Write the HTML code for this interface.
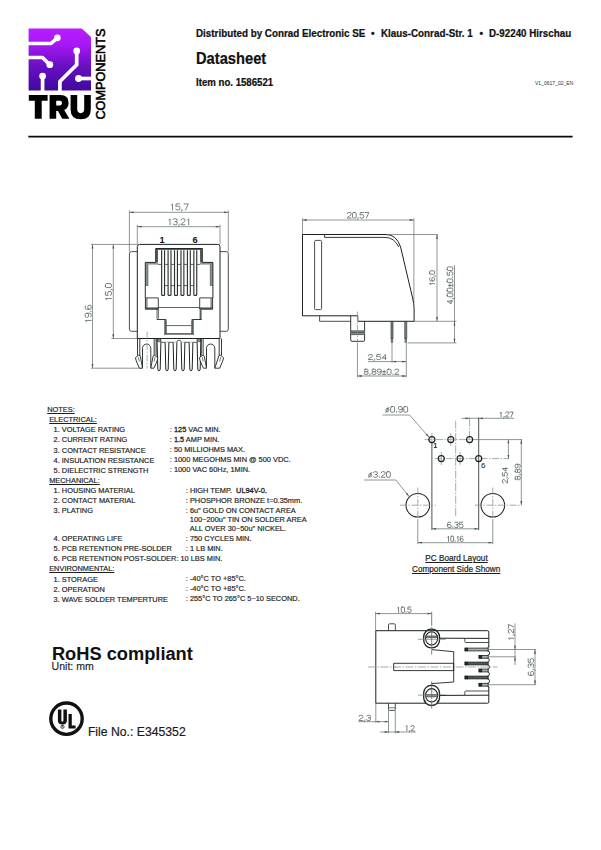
<!DOCTYPE html>
<html lang="en">
<head>
<meta charset="utf-8">
<title>Datasheet 1586521</title>
<style>
html,body{margin:0;padding:0;background:#fff;}
body{width:601px;height:850px;position:relative;overflow:hidden;font-family:"Liberation Sans",sans-serif;color:#000;}
.t{position:absolute;white-space:nowrap;line-height:1;transform-origin:0 0;}
.hb{font-weight:bold;color:#111;-webkit-text-stroke:0.22px #111;}
.dw{position:absolute;left:0;top:0;}
.n{position:absolute;white-space:nowrap;line-height:1;font-size:7.4px;color:#1e1e1e;transform-origin:0 0;-webkit-text-stroke:0.18px #1e1e1e;}
.sb{font-weight:normal;-webkit-text-stroke:0.3px #1e1e1e;}
.u{text-decoration:underline;text-decoration-thickness:0.9px;text-underline-offset:1px;}
.b{font-weight:bold;}
.cap{position:absolute;white-space:nowrap;line-height:1;font-size:8.2px;color:#1e1e1e;text-decoration:underline;text-decoration-thickness:0.8px;text-underline-offset:1px;-webkit-text-stroke:0.2px #1e1e1e;}
</style>
</head>
<body>
<!-- logo -->
<svg class="dw" width="130" height="130" viewBox="0 0 130 130">
<defs>
<linearGradient id="pg" x1="0" y1="0" x2="0" y2="1">
<stop offset="0" stop-color="#b81dff"/>
<stop offset="0.25" stop-color="#a818f5"/>
<stop offset="0.6" stop-color="#6a10c4"/>
<stop offset="1" stop-color="#3f0a9c"/>
</linearGradient>
</defs>
<path d="M28.6 28.6H81.2Q82 28.6 82.6 29.3L90.4 36.6Q91 37.2 91 38V90.5H28.6Z" fill="url(#pg)"/>
<g stroke="#fff" stroke-width="3.7" fill="none" stroke-linejoin="round">
<path d="M28 43.5H51L57.3 37.8"/>
<path d="M28 57.5H42.5L49.8 64.7"/>
<path d="M42.6 76.1V91"/>
<path d="M76.7 51V64.7L59.9 81.5V91"/>
<path d="M78.5 78.5H92"/>
</g>
<g fill="#fff">
<circle cx="57.3" cy="37.8" r="3.4"/>
<circle cx="49.8" cy="64.7" r="3.4"/>
<circle cx="42.6" cy="76.1" r="3.4"/>
<circle cx="76.7" cy="51" r="3.4"/>
<circle cx="78.5" cy="78.5" r="3.4"/>
</g>
<!-- TRU -->
<g fill="#000" transform="translate(0 95.1) scale(1 1.028) translate(0 -95)">
<path d="M28.8 95H47.6V100.6H41.7V118H34.8V100.6H28.8Z"/>
<path d="M49.6 95H60.5Q68.6 95 68.6 102.4Q68.6 107.8 64.2 109.4L69.4 118H62.2L58 110.4H56.2V118H49.6ZM56.2 100.4V105.2H60Q62 105.2 62 102.8Q62 100.4 60 100.4Z" fill-rule="evenodd"/>
<path d="M70.6 95H77.2V108.6Q77.2 112.6 80.7 112.6Q84.2 112.6 84.2 108.6V95H90.8V109Q90.8 118.5 80.7 118.5Q70.6 118.5 70.6 109Z"/>
</g>
<text transform="translate(104.5 119.6) rotate(-90)" font-family="Liberation Sans, sans-serif" font-size="13.3" textLength="91" lengthAdjust="spacingAndGlyphs" fill="#000" stroke="#000" stroke-width="0.55">COMPONENTS</text>
</svg>
<!-- header -->
<div class="t hb" id="h1a" style="left:196px;top:28.9px;font-size:10.2px;transform:scaleX(0.9653);">Distributed by Conrad Electronic SE</div>
<div class="t hb" id="h1b" style="left:370.9px;top:28.9px;font-size:10.2px;">•</div>
<div class="t hb" id="h1c" style="left:381px;top:28.9px;font-size:10.2px;transform:scaleX(0.9641);">Klaus-Conrad-Str. 1</div>
<div class="t hb" id="h1d" style="left:479.4px;top:28.9px;font-size:10.2px;">•</div>
<div class="t hb" id="h1e" style="left:489px;top:28.9px;font-size:10.2px;transform:scaleX(0.9602);">D-92240 Hirschau</div>
<div class="t hb" id="h2" style="left:196.2px;top:51px;font-size:16.9px;transform:scaleX(0.8694);">Datasheet</div>
<div class="t hb" id="h3" style="left:196px;top:77.6px;font-size:10.3px;transform:scaleX(0.9364);">Item no. 1586521</div>
<div class="t" id="h4" style="left:534.8px;top:81.3px;font-size:5.6px;color:#333;transform:scaleX(0.9);">V1_0617_02_EN</div>

<svg class="dw" width="601" height="850" viewBox="0 0 601 850" fill="none" stroke-linecap="butt">
<rect x="28.3" y="135.75" width="544.3" height="1.75" fill="#0c0c0c" stroke="none"/>
<path d="M129.4 210.4L129.4 251.6" stroke="#5e6c67" stroke-width="0.7"/>
<path d="M228.3 210.4L228.3 251.6" stroke="#5e6c67" stroke-width="0.7"/>
<path d="M129.4 212.3L228.3 212.3" stroke="#5e6c67" stroke-width="0.7"/>
<path d="M129.4 212.3L133.6 211.4L133.6 213.2Z" fill="#46524e" stroke="none"/>
<path d="M228.3 212.3L224.1 213.2L224.1 211.4Z" fill="#46524e" stroke="none"/>
<g transform="translate(179.2 209.9) rotate(0)" stroke="#515e59" stroke-width="0.78" fill="none" stroke-linecap="round" stroke-linejoin="round"><path transform="translate(-9.07 -6) scale(5.94 6)" vector-effect="non-scaling-stroke" d="M.2 .2L.4 0V1"/><path transform="translate(-3.4 -6) scale(5.94 6)" vector-effect="non-scaling-stroke" d="M.65 0H.05L0 .45Q.15 .38 .35 .38H.45Q.7 .38 .7 .6V.78Q.7 1 .5 1H.2Q.02 1 0 .85"/><path transform="translate(2.09 -6) scale(5.94 6)" vector-effect="non-scaling-stroke" d="M.14 .9V1L.04 1.22"/><path transform="translate(4.91 -6) scale(5.94 6)" vector-effect="non-scaling-stroke" d="M0 0H.7L.25 1"/></g>
<path d="M137.3 224.8L137.3 244.4" stroke="#5e6c67" stroke-width="0.7"/>
<path d="M220 224.8L220 244.4" stroke="#5e6c67" stroke-width="0.7"/>
<path d="M137.3 226.7L220 226.7" stroke="#5e6c67" stroke-width="0.7"/>
<path d="M137.3 226.7L141.5 225.8L141.5 227.6Z" fill="#46524e" stroke="none"/>
<path d="M220 226.7L215.8 227.6L215.8 225.8Z" fill="#46524e" stroke="none"/>
<g transform="translate(179.1 224.8) rotate(0)" stroke="#515e59" stroke-width="0.78" fill="none" stroke-linecap="round" stroke-linejoin="round"><path transform="translate(-11.33 -6) scale(5.66 6)" vector-effect="non-scaling-stroke" d="M.2 .2L.4 0V1"/><path transform="translate(-5.93 -6) scale(5.66 6)" vector-effect="non-scaling-stroke" d="M0 .15Q.05 0 .2 0H.5Q.7 0 .7 .2V.3Q.7 .48 .5 .48H.3M.5 .48Q.7 .48 .7 .68V.8Q.7 1 .5 1H.2Q.02 1 0 .85"/><path transform="translate(-0.71 -6) scale(5.66 6)" vector-effect="non-scaling-stroke" d="M.14 .9V1L.04 1.22"/><path transform="translate(1.97 -6) scale(5.66 6)" vector-effect="non-scaling-stroke" d="M0 .2Q0 0 .2 0H.5Q.7 0 .7 .2V.3Q.7 .45 .5 .55L.1 .8Q0 .87 0 1H.7"/><path transform="translate(7.37 -6) scale(5.66 6)" vector-effect="non-scaling-stroke" d="M.2 .2L.4 0V1"/></g>
<path d="M91 244.4L137.3 244.4" stroke="#5e6c67" stroke-width="0.7"/>
<path d="M111.4 338.5L137.3 338.5" stroke="#5e6c67" stroke-width="0.7"/>
<path d="M91 368.2L141.5 368.2" stroke="#5e6c67" stroke-width="0.7"/>
<path d="M92.5 244.4L92.5 368.2" stroke="#5e6c67" stroke-width="0.7"/>
<path d="M92.5 244.4L93.4 248.6L91.6 248.6Z" fill="#46524e" stroke="none"/>
<path d="M92.5 368.2L91.6 364L93.4 364Z" fill="#46524e" stroke="none"/>
<path d="M113.3 244.4L113.3 338.5" stroke="#5e6c67" stroke-width="0.7"/>
<path d="M113.3 244.4L114.2 248.6L112.4 248.6Z" fill="#46524e" stroke="none"/>
<path d="M113.3 338.5L112.4 334.3L114.2 334.3Z" fill="#46524e" stroke="none"/>
<g transform="translate(91.2 314) rotate(-90)" stroke="#515e59" stroke-width="0.78" fill="none" stroke-linecap="round" stroke-linejoin="round"><path transform="translate(-8.73 -6) scale(5.72 6)" vector-effect="non-scaling-stroke" d="M.2 .2L.4 0V1"/><path transform="translate(-3.27 -6) scale(5.72 6)" vector-effect="non-scaling-stroke" d="M.05 .9Q.1 1 .25 1H.45Q.7 1 .7 .75V.22Q.7 0 .5 0H.2Q0 0 0 .2V.35Q0 .55 .2 .55H.5Q.7 .55 .7 .35"/><path transform="translate(2.01 -6) scale(5.72 6)" vector-effect="non-scaling-stroke" d="M.12 .9V1"/><path transform="translate(4.72 -6) scale(5.72 6)" vector-effect="non-scaling-stroke" d="M.65 .1Q.6 0 .45 0H.25Q0 0 0 .25V.78Q0 1 .2 1H.5Q.7 1 .7 .8V.65Q.7 .45 .5 .45H.2Q0 .45 0 .65"/></g>
<g transform="translate(111.4 292.2) rotate(-90)" stroke="#515e59" stroke-width="0.78" fill="none" stroke-linecap="round" stroke-linejoin="round"><path transform="translate(-8.63 -6) scale(5.65 6)" vector-effect="non-scaling-stroke" d="M.2 .2L.4 0V1"/><path transform="translate(-3.23 -6) scale(5.65 6)" vector-effect="non-scaling-stroke" d="M.65 0H.05L0 .45Q.15 .38 .35 .38H.45Q.7 .38 .7 .6V.78Q.7 1 .5 1H.2Q.02 1 0 .85"/><path transform="translate(1.99 -6) scale(5.65 6)" vector-effect="non-scaling-stroke" d="M.14 .9V1L.04 1.22"/><path transform="translate(4.67 -6) scale(5.65 6)" vector-effect="non-scaling-stroke" d="M.2 0H.5Q.7 0 .7 .2V.8Q.7 1 .5 1H.2Q0 1 0 .8V.2Q0 0 .2 0Z"/></g>
<text x="162" y="243" font-family="Liberation Sans, sans-serif" font-weight="bold" font-size="9.2" fill="#111" text-anchor="middle">1</text>
<text x="195" y="243" font-family="Liberation Sans, sans-serif" font-weight="bold" font-size="9.2" fill="#111" text-anchor="middle">6</text>
<path d="M137.3 338.5V246.6Q137.3 244.4 139.5 244.4H217.8Q220 244.4 220 246.6V338.5Z" stroke="#1c2220" stroke-width="1.0" fill="none" />
<path d="M137.3 251.6H131.6Q129.4 251.6 129.4 253.8V329.1Q129.4 331.3 131.6 331.3H137.3" stroke="#343e3a" stroke-width="0.9" fill="none" />
<path d="M220 251.6H226.1Q228.3 251.6 228.3 253.8V329.1Q228.3 331.3 226.1 331.3H220" stroke="#343e3a" stroke-width="0.9" fill="none" />
<path d="M156.9 262.4V249" stroke="#555f5b" stroke-width="2.3" fill="none" stroke-linejoin="miter"/>
<path d="M201.1 262.4V249" stroke="#555f5b" stroke-width="2.3" fill="none" stroke-linejoin="miter"/>
<path d="M155.7 249.3H202.3" stroke="#555f5b" stroke-width="1.5" fill="none" stroke-linejoin="miter"/>
<path d="M145.3 263.5H158" stroke="#8a948f" stroke-width="2.2" fill="none" stroke-linejoin="miter"/>
<path d="M200 263.5H212.9" stroke="#8a948f" stroke-width="2.2" fill="none" stroke-linejoin="miter"/>
<path d="M146.6 262.4V285.5" stroke="#8a948f" stroke-width="2.6" fill="none" stroke-linejoin="miter"/>
<path d="M211.6 262.4V285.5" stroke="#8a948f" stroke-width="2.6" fill="none" stroke-linejoin="miter"/>
<path d="M147.9 264.6V285.5H145.3M210.3 264.6V285.5H212.9" stroke="#343e3a" stroke-width="0.6" fill="none" />
<path d="M145.3 297.9V262.4H155.7V248.5H202.3V262.4H212.9V297.9" stroke="#1c2220" stroke-width="0.95" fill="none" />
<path d="M146.5 308.3V298.3" stroke="#8a948f" stroke-width="2.3" fill="none" stroke-linejoin="miter"/>
<path d="M145.4 308.3H158.3" stroke="#555f5b" stroke-width="1.8" fill="none" stroke-linejoin="miter"/>
<path d="M145.4 297.9H158.3V309.2H145.4Z" stroke="#1c2220" stroke-width="0.85" fill="none" />
<path d="M211.5 308.3V298.3" stroke="#8a948f" stroke-width="2.3" fill="none" stroke-linejoin="miter"/>
<path d="M199.7 308.3H212.6" stroke="#555f5b" stroke-width="1.8" fill="none" stroke-linejoin="miter"/>
<path d="M212.6 297.9H199.7V309.2H212.6Z" stroke="#1c2220" stroke-width="0.85" fill="none" />
<path d="M157.0 309.2V319.5M158.4 309.2V318.6" stroke="#1c2220" stroke-width="0.7" fill="none" />
<path d="M200.6 309.2V319.5" stroke="#555f5b" stroke-width="2.0" fill="none" stroke-linejoin="miter"/>
<path d="M157 319.5H166.3M191.7 319.5H201.6" stroke="#1c2220" stroke-width="0.9" fill="none" />
<path d="M165.3 319.5V334.6" stroke="#555f5b" stroke-width="2.1" fill="none" stroke-linejoin="miter"/>
<path d="M192.7 319.5V334.6" stroke="#555f5b" stroke-width="2.1" fill="none" stroke-linejoin="miter"/>
<path d="M164.3 333.9H193.7" stroke="#555f5b" stroke-width="1.6" fill="none" stroke-linejoin="miter"/>
<path d="M166.5 320.5V333M191.5 320.5V333" stroke="#343e3a" stroke-width="0.5" fill="none" />
<path d="M158.3 307.5L199.7 307.5" stroke="#343e3a" stroke-width="0.8"/>
<path d="M166.7 325.6L191.3 325.6" stroke="#343e3a" stroke-width="0.8"/>
<path d="M158 264.4L200 264.4" stroke="#343e3a" stroke-width="0.8"/>
<path d="M161 285.6L197 285.6" stroke="#343e3a" stroke-width="0.8"/>
<path d="M161.65 250.2V294.7Q161.65 295.4 162.4 295.4H163.8Q164.55 295.4 164.55 294.7V250.2" stroke="#2c3330" stroke-width="1.15" fill="#fff" />
<path d="M168.09 250.2V294.7Q168.09 295.4 168.84 295.4H170.24Q170.99 295.4 170.99 294.7V250.2" stroke="#2c3330" stroke-width="1.15" fill="#fff" />
<path d="M174.53 250.2V294.7Q174.53 295.4 175.28 295.4H176.68Q177.43 295.4 177.43 294.7V250.2" stroke="#2c3330" stroke-width="1.15" fill="#fff" />
<path d="M180.97 250.2V294.7Q180.97 295.4 181.72 295.4H183.12Q183.87 295.4 183.87 294.7V250.2" stroke="#2c3330" stroke-width="1.15" fill="#fff" />
<path d="M187.41 250.2V294.7Q187.41 295.4 188.16 295.4H189.56Q190.31 295.4 190.31 294.7V250.2" stroke="#2c3330" stroke-width="1.15" fill="#fff" />
<path d="M193.85 250.2V294.7Q193.85 295.4 194.6 295.4H196Q196.75 295.4 196.75 294.7V250.2" stroke="#2c3330" stroke-width="1.15" fill="#fff" />
<path d="M157 338.5V342.3H176.8A2.2 2.2 0 0 1 181.2 342.3H201V338.5" stroke="#343e3a" stroke-width="0.8" fill="none" />
<rect x="157.6" y="338.9" width="3" height="3.2" fill="#7a8480" stroke="none"/><rect x="197.4" y="338.9" width="3" height="3.2" fill="#7a8480" stroke="none"/>
<path d="M157.4 338.5V342.3M160.8 338.5V342.3M197.2 338.5V342.3M200.6 338.5V342.3" stroke="#1c2220" stroke-width="0.8" fill="none" />
<path d="M157.1 342.3L157.8 369.2Q157.8 370.6 159 370.6Q160.2 370.6 160.2 369.2L160.9 342.3" stroke="#1c2220" stroke-width="1.0" fill="#fff" />
<path d="M165.1 342.3L165.8 369.2Q165.8 370.6 167 370.6Q168.2 370.6 168.2 369.2L168.9 342.3" stroke="#1c2220" stroke-width="1.0" fill="#fff" />
<path d="M173.1 342.3L173.8 369.2Q173.8 370.6 175 370.6Q176.2 370.6 176.2 369.2L176.9 342.3" stroke="#1c2220" stroke-width="1.0" fill="#fff" />
<path d="M181.1 342.3L181.8 369.2Q181.8 370.6 183 370.6Q184.2 370.6 184.2 369.2L184.9 342.3" stroke="#1c2220" stroke-width="1.0" fill="#fff" />
<path d="M189.1 342.3L189.8 369.2Q189.8 370.6 191 370.6Q192.2 370.6 192.2 369.2L192.9 342.3" stroke="#1c2220" stroke-width="1.0" fill="#fff" />
<path d="M197.1 342.3L197.8 369.2Q197.8 370.6 199 370.6Q200.2 370.6 200.2 369.2L200.9 342.3" stroke="#1c2220" stroke-width="1.0" fill="#fff" />
<path d="M137.5 338.5V355.5M139.8 338.5V355.5" stroke="#1c2220" stroke-width="0.9" fill="none" />
<path d="M154.2 338.5V355.5M156.1 338.5V355.5" stroke="#1c2220" stroke-width="0.9" fill="none" />
<path d="M142.5 368.2V348.2A4.15 4.15 0 0 1 150.8 348.2V368.2" stroke="#1c2220" stroke-width="0.9" fill="none" />
<path d="M138.3 355.3L135.4 357.8L136.3 361L139.3 368.2H142.5L140.5 357L139.9 355.3Z" stroke="#1c2220" stroke-width="0.9" fill="#fff" />
<path d="M138.3 357.2L139.3 361.5" stroke="#343e3a" stroke-width="0.7" fill="none" />
<path d="M154.5 355.3L157.9 357.6L157.1 361L153.9 368.2H150.8L152.9 357L153.7 355.3Z" stroke="#1c2220" stroke-width="0.9" fill="#fff" />
<path d="M155.1 357.2L154.1 361.5" stroke="#343e3a" stroke-width="0.7" fill="none" />
<path d="M221.5 338.5V355.5M219.2 338.5V355.5" stroke="#1c2220" stroke-width="0.9" fill="none" />
<path d="M203.1 338.5V355.5M201.2 338.5V355.5" stroke="#1c2220" stroke-width="0.9" fill="none" />
<path d="M214.8 368.2V348.2A4.15 4.15 0 0 0 206.5 348.2V368.2" stroke="#1c2220" stroke-width="0.9" fill="none" />
<path d="M220.7 355.3L223.6 357.8L222.7 361L219.7 368.2H214.8L218.5 357L219.1 355.3Z" stroke="#1c2220" stroke-width="0.9" fill="#fff" />
<path d="M220.7 357.2L219.7 361.5" stroke="#343e3a" stroke-width="0.7" fill="none" />
<path d="M202.8 355.3L199.4 357.6L200.2 361L203.4 368.2H206.5L204.4 357L203.6 355.3Z" stroke="#1c2220" stroke-width="0.9" fill="#fff" />
<path d="M202.2 357.2L203.2 361.5" stroke="#343e3a" stroke-width="0.7" fill="none" />
<path d="M147.1 331.5L147.1 368.5" stroke="#9aa5a1" stroke-width="0.9" stroke-dasharray="7 1.5 1.5 1.5"/>
<path d="M302.5 218.4L302.5 234.5" stroke="#5e6c67" stroke-width="0.7"/>
<path d="M413.9 218.4L413.9 303" stroke="#5e6c67" stroke-width="0.7"/>
<path d="M302.5 220L413.9 220" stroke="#5e6c67" stroke-width="0.7"/>
<path d="M302.5 220L306.7 219.1L306.7 220.9Z" fill="#46524e" stroke="none"/>
<path d="M413.9 220L409.7 220.9L409.7 219.1Z" fill="#46524e" stroke="none"/>
<g transform="translate(358.1 218.1) rotate(0)" stroke="#515e59" stroke-width="0.78" fill="none" stroke-linecap="round" stroke-linejoin="round"><path transform="translate(-10.74 -5.6) scale(5.36 5.6)" vector-effect="non-scaling-stroke" d="M0 .2Q0 0 .2 0H.5Q.7 0 .7 .2V.3Q.7 .45 .5 .55L.1 .8Q0 .87 0 1H.7"/><path transform="translate(-5.62 -5.6) scale(5.36 5.6)" vector-effect="non-scaling-stroke" d="M.2 0H.5Q.7 0 .7 .2V.8Q.7 1 .5 1H.2Q0 1 0 .8V.2Q0 0 .2 0Z"/><path transform="translate(-0.67 -5.6) scale(5.36 5.6)" vector-effect="non-scaling-stroke" d="M.14 .9V1L.04 1.22"/><path transform="translate(1.87 -5.6) scale(5.36 5.6)" vector-effect="non-scaling-stroke" d="M.65 0H.05L0 .45Q.15 .38 .35 .38H.45Q.7 .38 .7 .6V.78Q.7 1 .5 1H.2Q.02 1 0 .85"/><path transform="translate(6.99 -5.6) scale(5.36 5.6)" vector-effect="non-scaling-stroke" d="M0 0H.7L.25 1"/></g>
<path d="M302.5 234.5V315.8H357.9" stroke="#1c2220" stroke-width="1.0" fill="none" />
<path d="M302.5 234.5H386Q396.5 234.5 400.6 247L412.6 298Q414.1 304 414.1 309V321.3" stroke="#1c2220" stroke-width="1.0" fill="none" />
<path d="M324.6 234.5V237.4H385Q394.3 237.4 398.8 247" stroke="#1c2220" stroke-width="0.9" fill="none" />
<path d="M315.6 240.4H320.6Q321.6 240.4 321.6 241.4V308.6Q321.6 309.6 320.6 309.6H315.6Q314.6 309.6 314.6 308.6V241.4Q314.6 240.4 315.6 240.4Z" stroke="#343e3a" stroke-width="0.9" fill="none" />
<path d="M319.6 315.8V321.3H350.7" stroke="#343e3a" stroke-width="0.9" fill="none" />
<path d="M357.9 315.8V321.3" stroke="#343e3a" stroke-width="0.9" fill="none" />
<path d="M350.7 315.8V340.1Q350.7 341.3 351.9 341.3H363.4Q364.6 341.3 364.6 340.1V321.3" stroke="#1c2220" stroke-width="0.9" fill="none" />
<path d="M357.9 321.3H414.1" stroke="#1c2220" stroke-width="1.0" fill="none" />
<rect x="350.7" y="330.8" width="13.9" height="3.8" fill="#8a9490" stroke="none"/>
<path d="M350.7 330.8H364.6M350.7 332.6H364.6M350.7 334.6H364.6" stroke="#343e3a" stroke-width="0.7" fill="none" />
<path d="M357.4 311.6L357.4 343" stroke="#87938e" stroke-width="0.8" stroke-dasharray="9 1.5 1.5 1.5"/>
<path d="M357.4 343L357.4 377.4" stroke="#5e6c67" stroke-width="0.7"/>
<rect x="391" y="321.3" width="2.0" height="17" fill="#7b8581" stroke="#343e3a" stroke-width="0.7"/>
<rect x="391.2" y="338.3" width="1.6" height="4.2" fill="#9aa39f" stroke="#343e3a" stroke-width="0.6"/>
<rect x="404.8" y="321.3" width="2.0" height="17" fill="#7b8581" stroke="#343e3a" stroke-width="0.7"/>
<rect x="405" y="338.3" width="1.6" height="4.2" fill="#9aa39f" stroke="#343e3a" stroke-width="0.6"/>
<path d="M392 343L392 362.6" stroke="#5e6c67" stroke-width="0.7"/>
<path d="M406.3 343L406.3 377.4" stroke="#5e6c67" stroke-width="0.7"/>
<path d="M368 361.6L406.3 361.6" stroke="#5e6c67" stroke-width="0.7"/>
<path d="M392 361.6L396.2 360.7L396.2 362.5Z" fill="#46524e" stroke="none"/>
<path d="M406.3 361.6L402.1 362.5L402.1 360.7Z" fill="#46524e" stroke="none"/>
<g transform="translate(377.3 359.6) rotate(0)" stroke="#515e59" stroke-width="0.78" fill="none" stroke-linecap="round" stroke-linejoin="round"><path transform="translate(-8.97 -5) scale(5.88 5)" vector-effect="non-scaling-stroke" d="M0 .2Q0 0 .2 0H.5Q.7 0 .7 .2V.3Q.7 .45 .5 .55L.1 .8Q0 .87 0 1H.7"/><path transform="translate(-3.54 -5) scale(5.88 5)" vector-effect="non-scaling-stroke" d="M.14 .9V1L.04 1.22"/><path transform="translate(-0.75 -5) scale(5.88 5)" vector-effect="non-scaling-stroke" d="M.65 0H.05L0 .45Q.15 .38 .35 .38H.45Q.7 .38 .7 .6V.78Q.7 1 .5 1H.2Q.02 1 0 .85"/><path transform="translate(4.86 -5) scale(5.88 5)" vector-effect="non-scaling-stroke" d="M.55 1V0L0 .7H.7"/></g>
<path d="M357.4 376L406.3 376" stroke="#5e6c67" stroke-width="0.7"/>
<path d="M357.4 376L361.6 375.1L361.6 376.9Z" fill="#46524e" stroke="none"/>
<path d="M406.3 376L402.1 376.9L402.1 375.1Z" fill="#46524e" stroke="none"/>
<g transform="translate(381.5 374.4) rotate(0)" stroke="#515e59" stroke-width="0.78" fill="none" stroke-linecap="round" stroke-linejoin="round"><path transform="translate(-17.24 -5.2) scale(5.52 5.2)" vector-effect="non-scaling-stroke" d="M.2 0H.5Q.68 0 .68 .18V.28Q.68 .47 .5 .47H.2Q.02 .47 .02 .28V.18Q.02 0 .2 0ZM.2 .47Q0 .47 0 .67V.8Q0 1 .2 1H.5Q.7 1 .7 .8V.67Q.7 .47 .5 .47"/><path transform="translate(-12.14 -5.2) scale(5.52 5.2)" vector-effect="non-scaling-stroke" d="M.14 .9V1L.04 1.22"/><path transform="translate(-9.52 -5.2) scale(5.52 5.2)" vector-effect="non-scaling-stroke" d="M.2 0H.5Q.68 0 .68 .18V.28Q.68 .47 .5 .47H.2Q.02 .47 .02 .28V.18Q.02 0 .2 0ZM.2 .47Q0 .47 0 .67V.8Q0 1 .2 1H.5Q.7 1 .7 .8V.67Q.7 .47 .5 .47"/><path transform="translate(-4.25 -5.2) scale(5.52 5.2)" vector-effect="non-scaling-stroke" d="M.05 .9Q.1 1 .25 1H.45Q.7 1 .7 .75V.22Q.7 0 .5 0H.2Q0 0 0 .2V.35Q0 .55 .2 .55H.5Q.7 .55 .7 .35"/><path transform="translate(0.98 -5.2) scale(5.52 5.2)" vector-effect="non-scaling-stroke" d="M0 .5H.6M.3 .2V.8M0 1H.6"/><path transform="translate(5.66 -5.2) scale(5.52 5.2)" vector-effect="non-scaling-stroke" d="M.2 0H.5Q.7 0 .7 .2V.8Q.7 1 .5 1H.2Q0 1 0 .8V.2Q0 0 .2 0Z"/><path transform="translate(10.76 -5.2) scale(5.52 5.2)" vector-effect="non-scaling-stroke" d="M.12 .9V1"/><path transform="translate(13.37 -5.2) scale(5.52 5.2)" vector-effect="non-scaling-stroke" d="M0 .2Q0 0 .2 0H.5Q.7 0 .7 .2V.3Q.7 .45 .5 .55L.1 .8Q0 .87 0 1H.7"/></g>
<path d="M389 234.5L438 234.5" stroke="#5e6c67" stroke-width="0.7"/>
<path d="M414.1 321.3L456.5 321.3" stroke="#5e6c67" stroke-width="0.7"/>
<path d="M437 234.5L437 321.3" stroke="#5e6c67" stroke-width="0.7"/>
<path d="M437 234.5L437.9 238.7L436.1 238.7Z" fill="#46524e" stroke="none"/>
<path d="M437 321.3L436.1 317.1L437.9 317.1Z" fill="#46524e" stroke="none"/>
<g transform="translate(434.6 278.2) rotate(-90)" stroke="#515e59" stroke-width="0.78" fill="none" stroke-linecap="round" stroke-linejoin="round"><path transform="translate(-7.37 -5) scale(4.83 5)" vector-effect="non-scaling-stroke" d="M.2 .2L.4 0V1"/><path transform="translate(-2.76 -5) scale(4.83 5)" vector-effect="non-scaling-stroke" d="M.65 .1Q.6 0 .45 0H.25Q0 0 0 .25V.78Q0 1 .2 1H.5Q.7 1 .7 .8V.65Q.7 .45 .5 .45H.2Q0 .45 0 .65"/><path transform="translate(1.7 -5) scale(4.83 5)" vector-effect="non-scaling-stroke" d="M.14 .9V1L.04 1.22"/><path transform="translate(3.99 -5) scale(4.83 5)" vector-effect="non-scaling-stroke" d="M.2 0H.5Q.7 0 .7 .2V.8Q.7 1 .5 1H.2Q0 1 0 .8V.2Q0 0 .2 0Z"/></g>
<path d="M407.5 342.9L456.5 342.9" stroke="#5e6c67" stroke-width="0.7"/>
<path d="M454.5 265L454.5 342.9" stroke="#5e6c67" stroke-width="0.7"/>
<path d="M454.5 321.3L455.4 325.5L453.6 325.5Z" fill="#46524e" stroke="none"/>
<path d="M454.5 342.9L453.6 338.7L455.4 338.7Z" fill="#46524e" stroke="none"/>
<g transform="translate(452.8 285.4) rotate(-90)" stroke="#515e59" stroke-width="0.78" fill="none" stroke-linecap="round" stroke-linejoin="round"><path transform="translate(-18.5 -5.6) scale(5.14 5.6)" vector-effect="non-scaling-stroke" d="M.55 1V0L0 .7H.7"/><path transform="translate(-13.76 -5.6) scale(5.14 5.6)" vector-effect="non-scaling-stroke" d="M.14 .9V1L.04 1.22"/><path transform="translate(-11.32 -5.6) scale(5.14 5.6)" vector-effect="non-scaling-stroke" d="M.2 0H.5Q.7 0 .7 .2V.8Q.7 1 .5 1H.2Q0 1 0 .8V.2Q0 0 .2 0Z"/><path transform="translate(-6.41 -5.6) scale(5.14 5.6)" vector-effect="non-scaling-stroke" d="M.2 0H.5Q.7 0 .7 .2V.8Q.7 1 .5 1H.2Q0 1 0 .8V.2Q0 0 .2 0Z"/><path transform="translate(-1.54 -5.6) scale(5.14 5.6)" vector-effect="non-scaling-stroke" d="M0 .5H.6M.3 .2V.8M0 1H.6"/><path transform="translate(2.82 -5.6) scale(5.14 5.6)" vector-effect="non-scaling-stroke" d="M.2 0H.5Q.7 0 .7 .2V.8Q.7 1 .5 1H.2Q0 1 0 .8V.2Q0 0 .2 0Z"/><path transform="translate(7.56 -5.6) scale(5.14 5.6)" vector-effect="non-scaling-stroke" d="M.12 .9V1"/><path transform="translate(10 -5.6) scale(5.14 5.6)" vector-effect="non-scaling-stroke" d="M.65 0H.05L0 .45Q.15 .38 .35 .38H.45Q.7 .38 .7 .6V.78Q.7 1 .5 1H.2Q.02 1 0 .85"/><path transform="translate(14.91 -5.6) scale(5.14 5.6)" vector-effect="non-scaling-stroke" d="M.2 0H.5Q.7 0 .7 .2V.8Q.7 1 .5 1H.2Q0 1 0 .8V.2Q0 0 .2 0Z"/></g>
<path d="M431.9 442.6L431.9 530" stroke="#343e3a" stroke-width="0.9"/>
<path d="M478.7 417.4L478.7 530" stroke="#343e3a" stroke-width="0.9"/>
<path d="M455.7 420.6L455.7 517" stroke="#8b9792" stroke-width="0.8" stroke-dasharray="8 1.5 1.5 1.5"/>
<path d="M469.6 417.4L469.6 445" stroke="#8b9792" stroke-width="0.8" stroke-dasharray="9 1.5 1.5 1.5"/>
<path d="M424.5 439.6L472.6 439.6" stroke="#8b9792" stroke-width="0.8" stroke-dasharray="7 1.5 1.5 1.5"/>
<path d="M472.6 439.6L522.2 439.6" stroke="#5e6c67" stroke-width="0.7"/>
<path d="M434.5 458.6L509.2 458.6" stroke="#8b9792" stroke-width="0.8" stroke-dasharray="7 1.5 1.5 1.5"/>
<path d="M431.9 433L431.9 446" stroke="#8b9792" stroke-width="0.8"/>
<path d="M450.8 433L450.8 446" stroke="#8b9792" stroke-width="0.8"/>
<path d="M441.3 452L441.3 465" stroke="#8b9792" stroke-width="0.8"/>
<path d="M460.1 452L460.1 465" stroke="#8b9792" stroke-width="0.8"/>
<circle cx="431.9" cy="439.6" r="3.05" stroke="#1c2220" stroke-width="1.15" fill="none"/>
<circle cx="450.8" cy="439.6" r="3.05" stroke="#1c2220" stroke-width="1.15" fill="none"/>
<circle cx="469.6" cy="439.6" r="3.05" stroke="#1c2220" stroke-width="1.15" fill="none"/>
<circle cx="441.3" cy="458.6" r="3.05" stroke="#1c2220" stroke-width="1.15" fill="none"/>
<circle cx="460.1" cy="458.6" r="3.05" stroke="#1c2220" stroke-width="1.15" fill="none"/>
<circle cx="478.7" cy="458.6" r="3.05" stroke="#1c2220" stroke-width="1.15" fill="none"/>
<circle cx="417.8" cy="505.2" r="11.8" stroke="#1c2220" stroke-width="1.05" fill="none"/>
<circle cx="492.8" cy="505.2" r="11.8" stroke="#1c2220" stroke-width="1.05" fill="none"/>
<path d="M400 505.2L435.8 505.2" stroke="#8b9792" stroke-width="0.8" stroke-dasharray="7 1.5 1.5 1.5"/>
<path d="M475 505.2L521.3 505.2" stroke="#8b9792" stroke-width="0.8" stroke-dasharray="7 1.5 1.5 1.5"/>
<path d="M417.8 487.5L417.8 520" stroke="#8b9792" stroke-width="0.8" stroke-dasharray="7 1.5 1.5 1.5"/>
<path d="M492.8 487.5L492.8 520" stroke="#8b9792" stroke-width="0.8" stroke-dasharray="7 1.5 1.5 1.5"/>
<path d="M417.8 520L417.8 544.2" stroke="#5e6c67" stroke-width="0.7"/>
<path d="M492.8 520L492.8 544.2" stroke="#5e6c67" stroke-width="0.7"/>
<path d="M431.9 528.8L478.7 528.8" stroke="#5e6c67" stroke-width="0.7"/>
<path d="M431.9 528.8L436.1 527.9L436.1 529.7Z" fill="#46524e" stroke="none"/>
<path d="M478.7 528.8L474.5 529.7L474.5 527.9Z" fill="#46524e" stroke="none"/>
<g transform="translate(455.3 527.6) rotate(0)" stroke="#515e59" stroke-width="0.78" fill="none" stroke-linecap="round" stroke-linejoin="round"><path transform="translate(-7.66 -5.4) scale(5.02 5.4)" vector-effect="non-scaling-stroke" d="M.65 .1Q.6 0 .45 0H.25Q0 0 0 .25V.78Q0 1 .2 1H.5Q.7 1 .7 .8V.65Q.7 .45 .5 .45H.2Q0 .45 0 .65"/><path transform="translate(-3.02 -5.4) scale(5.02 5.4)" vector-effect="non-scaling-stroke" d="M.12 .9V1"/><path transform="translate(-0.64 -5.4) scale(5.02 5.4)" vector-effect="non-scaling-stroke" d="M0 .15Q.05 0 .2 0H.5Q.7 0 .7 .2V.3Q.7 .48 .5 .48H.3M.5 .48Q.7 .48 .7 .68V.8Q.7 1 .5 1H.2Q.02 1 0 .85"/><path transform="translate(4.15 -5.4) scale(5.02 5.4)" vector-effect="non-scaling-stroke" d="M.65 0H.05L0 .45Q.15 .38 .35 .38H.45Q.7 .38 .7 .6V.78Q.7 1 .5 1H.2Q.02 1 0 .85"/></g>
<path d="M417.8 542.7L492.8 542.7" stroke="#5e6c67" stroke-width="0.7"/>
<path d="M417.8 542.7L422 541.8L422 543.6Z" fill="#46524e" stroke="none"/>
<path d="M492.8 542.7L488.6 543.6L488.6 541.8Z" fill="#46524e" stroke="none"/>
<g transform="translate(455 541.4) rotate(0)" stroke="#515e59" stroke-width="0.78" fill="none" stroke-linecap="round" stroke-linejoin="round"><path transform="translate(-8.11 -5.2) scale(4.05 5.2)" vector-effect="non-scaling-stroke" d="M.2 .2L.4 0V1"/><path transform="translate(-4.24 -5.2) scale(4.05 5.2)" vector-effect="non-scaling-stroke" d="M.2 0H.5Q.7 0 .7 .2V.8Q.7 1 .5 1H.2Q0 1 0 .8V.2Q0 0 .2 0Z"/><path transform="translate(-0.51 -5.2) scale(4.05 5.2)" vector-effect="non-scaling-stroke" d="M.12 .9V1"/><path transform="translate(1.41 -5.2) scale(4.05 5.2)" vector-effect="non-scaling-stroke" d="M.2 .2L.4 0V1"/><path transform="translate(5.27 -5.2) scale(4.05 5.2)" vector-effect="non-scaling-stroke" d="M.65 .1Q.6 0 .45 0H.25Q0 0 0 .25V.78Q0 1 .2 1H.5Q.7 1 .7 .8V.65Q.7 .45 .5 .45H.2Q0 .45 0 .65"/></g>
<path d="M461.7 418.3L514.2 418.3" stroke="#5e6c67" stroke-width="0.7"/>
<path d="M469.6 418.3L465.4 419.2L465.4 417.4Z" fill="#46524e" stroke="none"/>
<path d="M478.7 418.3L482.9 417.4L482.9 419.2Z" fill="#46524e" stroke="none"/>
<g transform="translate(506.2 417) rotate(0)" stroke="#515e59" stroke-width="0.78" fill="none" stroke-linecap="round" stroke-linejoin="round"><path transform="translate(-6.93 -5) scale(4.54 5)" vector-effect="non-scaling-stroke" d="M.2 .2L.4 0V1"/><path transform="translate(-2.74 -5) scale(4.54 5)" vector-effect="non-scaling-stroke" d="M.14 .9V1L.04 1.22"/><path transform="translate(-0.58 -5) scale(4.54 5)" vector-effect="non-scaling-stroke" d="M0 .2Q0 0 .2 0H.5Q.7 0 .7 .2V.3Q.7 .45 .5 .55L.1 .8Q0 .87 0 1H.7"/><path transform="translate(3.75 -5) scale(4.54 5)" vector-effect="non-scaling-stroke" d="M0 0H.7L.25 1"/></g>
<path d="M508.4 439.6L508.4 458.6" stroke="#5e6c67" stroke-width="0.7"/>
<path d="M508.4 439.6L509.3 443.2L507.5 443.2Z" fill="#46524e" stroke="none"/>
<path d="M508.4 458.6L507.5 455L509.3 455Z" fill="#46524e" stroke="none"/>
<g transform="translate(507.4 475.4) rotate(-90)" stroke="#515e59" stroke-width="0.78" fill="none" stroke-linecap="round" stroke-linejoin="round"><path transform="translate(-7.66 -5) scale(5.02 5)" vector-effect="non-scaling-stroke" d="M0 .2Q0 0 .2 0H.5Q.7 0 .7 .2V.3Q.7 .45 .5 .55L.1 .8Q0 .87 0 1H.7"/><path transform="translate(-3.02 -5) scale(5.02 5)" vector-effect="non-scaling-stroke" d="M.14 .9V1L.04 1.22"/><path transform="translate(-0.64 -5) scale(5.02 5)" vector-effect="non-scaling-stroke" d="M.65 0H.05L0 .45Q.15 .38 .35 .38H.45Q.7 .38 .7 .6V.78Q.7 1 .5 1H.2Q.02 1 0 .85"/><path transform="translate(4.15 -5) scale(5.02 5)" vector-effect="non-scaling-stroke" d="M.55 1V0L0 .7H.7"/></g>
<path d="M521.3 439.6L521.3 505.2" stroke="#5e6c67" stroke-width="0.7"/>
<path d="M521.3 439.6L522.2 443.8L520.4 443.8Z" fill="#46524e" stroke="none"/>
<path d="M521.3 505.2L520.4 501L522.2 501Z" fill="#46524e" stroke="none"/>
<g transform="translate(520.2 472) rotate(-90)" stroke="#515e59" stroke-width="0.78" fill="none" stroke-linecap="round" stroke-linejoin="round"><path transform="translate(-7.76 -5) scale(5.08 5)" vector-effect="non-scaling-stroke" d="M.2 0H.5Q.68 0 .68 .18V.28Q.68 .47 .5 .47H.2Q.02 .47 .02 .28V.18Q.02 0 .2 0ZM.2 .47Q0 .47 0 .67V.8Q0 1 .2 1H.5Q.7 1 .7 .8V.67Q.7 .47 .5 .47"/><path transform="translate(-3.06 -5) scale(5.08 5)" vector-effect="non-scaling-stroke" d="M.14 .9V1L.04 1.22"/><path transform="translate(-0.65 -5) scale(5.08 5)" vector-effect="non-scaling-stroke" d="M.2 0H.5Q.68 0 .68 .18V.28Q.68 .47 .5 .47H.2Q.02 .47 .02 .28V.18Q.02 0 .2 0ZM.2 .47Q0 .47 0 .67V.8Q0 1 .2 1H.5Q.7 1 .7 .8V.67Q.7 .47 .5 .47"/><path transform="translate(4.2 -5) scale(5.08 5)" vector-effect="non-scaling-stroke" d="M.05 .9Q.1 1 .25 1H.45Q.7 1 .7 .75V.22Q.7 0 .5 0H.2Q0 0 0 .2V.35Q0 .55 .2 .55H.5Q.7 .55 .7 .35"/></g>
<path d="M382.5 415L409.6 415" stroke="#5e6c67" stroke-width="0.7"/>
<path d="M409.6 415L428.8 437" stroke="#5e6c67" stroke-width="0.7"/>
<path d="M429.3 437.5L425.73 434.77L427.09 433.59Z" fill="#46524e" stroke="none"/>
<g transform="translate(396.5 412.2) rotate(0)" stroke="#515e59" stroke-width="0.78" fill="none" stroke-linecap="round" stroke-linejoin="round"><path transform="translate(-11.13 -5.6) scale(5.56 5.6)" vector-effect="non-scaling-stroke" d="M.35 .3A.28 .32 0 1 0 .351 .3ZM.08 1.02L.62 .14"/><path transform="translate(-5.83 -5.6) scale(5.56 5.6)" vector-effect="non-scaling-stroke" d="M.2 0H.5Q.7 0 .7 .2V.8Q.7 1 .5 1H.2Q0 1 0 .8V.2Q0 0 .2 0Z"/><path transform="translate(-0.69 -5.6) scale(5.56 5.6)" vector-effect="non-scaling-stroke" d="M.12 .9V1"/><path transform="translate(1.94 -5.6) scale(5.56 5.6)" vector-effect="non-scaling-stroke" d="M.05 .9Q.1 1 .25 1H.45Q.7 1 .7 .75V.22Q.7 0 .5 0H.2Q0 0 0 .2V.35Q0 .55 .2 .55H.5Q.7 .55 .7 .35"/><path transform="translate(7.24 -5.6) scale(5.56 5.6)" vector-effect="non-scaling-stroke" d="M.2 0H.5Q.7 0 .7 .2V.8Q.7 1 .5 1H.2Q0 1 0 .8V.2Q0 0 .2 0Z"/></g>
<path d="M364.2 480L395.8 480" stroke="#5e6c67" stroke-width="0.7"/>
<path d="M395.8 480L408.5 495.8" stroke="#5e6c67" stroke-width="0.7"/>
<path d="M409.2 496.7L405.73 493.85L407.13 492.71Z" fill="#46524e" stroke="none"/>
<g transform="translate(379.3 477.3) rotate(0)" stroke="#515e59" stroke-width="0.78" fill="none" stroke-linecap="round" stroke-linejoin="round"><path transform="translate(-11.04 -5.6) scale(5.51 5.6)" vector-effect="non-scaling-stroke" d="M.35 .3A.28 .32 0 1 0 .351 .3ZM.08 1.02L.62 .14"/><path transform="translate(-5.78 -5.6) scale(5.51 5.6)" vector-effect="non-scaling-stroke" d="M0 .15Q.05 0 .2 0H.5Q.7 0 .7 .2V.3Q.7 .48 .5 .48H.3M.5 .48Q.7 .48 .7 .68V.8Q.7 1 .5 1H.2Q.02 1 0 .85"/><path transform="translate(-0.69 -5.6) scale(5.51 5.6)" vector-effect="non-scaling-stroke" d="M.12 .9V1"/><path transform="translate(1.92 -5.6) scale(5.51 5.6)" vector-effect="non-scaling-stroke" d="M0 .2Q0 0 .2 0H.5Q.7 0 .7 .2V.3Q.7 .45 .5 .55L.1 .8Q0 .87 0 1H.7"/><path transform="translate(7.18 -5.6) scale(5.51 5.6)" vector-effect="non-scaling-stroke" d="M.2 0H.5Q.7 0 .7 .2V.8Q.7 1 .5 1H.2Q0 1 0 .8V.2Q0 0 .2 0Z"/></g>
<text x="435.4" y="447.6" font-family="Liberation Sans, sans-serif" font-weight="bold" font-size="6.4" fill="#111" text-anchor="middle">1</text>
<text x="483.2" y="467.6" font-family="Liberation Sans, sans-serif" font-size="8" fill="#111" text-anchor="middle">6</text>
<path d="M488.8 647V631.9000000000001Q488.8 630.7 487.6 630.7H375.8V703.2H487.6Q488.8 703.2 488.8 702.0V686.8" stroke="#1c2220" stroke-width="1.0" fill="none" />
<path d="M388.5 630.7V624.8Q388.5 623.8 389.5 623.8H394.3Q395.3 623.8 395.3 624.8V630.7" stroke="#343e3a" stroke-width="0.9" fill="none" />
<path d="M388.5 703.2V709.4Q388.5 710.4 389.5 710.4H394.3Q395.3 710.4 395.3 709.4V703.2" stroke="#343e3a" stroke-width="0.9" fill="none" />
<path d="M388.5 707.8L395.3 707.8" stroke="#343e3a" stroke-width="0.7"/>
<path d="M375.6 611.8L375.6 630.7" stroke="#5e6c67" stroke-width="0.7"/>
<path d="M375.6 613.6L431.7 613.6" stroke="#5e6c67" stroke-width="0.7"/>
<path d="M375.6 613.6L379.8 612.7L379.8 614.5Z" fill="#46524e" stroke="none"/>
<path d="M431.7 613.6L427.5 614.5L427.5 612.7Z" fill="#46524e" stroke="none"/>
<g transform="translate(403.9 612.4) rotate(0)" stroke="#515e59" stroke-width="0.78" fill="none" stroke-linecap="round" stroke-linejoin="round"><path transform="translate(-7.18 -5.4) scale(4.7 5.4)" vector-effect="non-scaling-stroke" d="M.2 .2L.4 0V1"/><path transform="translate(-2.69 -5.4) scale(4.7 5.4)" vector-effect="non-scaling-stroke" d="M.2 0H.5Q.7 0 .7 .2V.8Q.7 1 .5 1H.2Q0 1 0 .8V.2Q0 0 .2 0Z"/><path transform="translate(1.66 -5.4) scale(4.7 5.4)" vector-effect="non-scaling-stroke" d="M.12 .9V1"/><path transform="translate(3.88 -5.4) scale(4.7 5.4)" vector-effect="non-scaling-stroke" d="M.65 0H.05L0 .45Q.15 .38 .35 .38H.45Q.7 .38 .7 .6V.78Q.7 1 .5 1H.2Q.02 1 0 .85"/></g>
<path d="M368 667L497.5 667" stroke="#8b9792" stroke-width="0.8" stroke-dasharray="8 1.5 1.5 1.5"/>
<rect x="423.7" y="629.2" width="15.8" height="18.7" rx="7.6" ry="7.6" fill="none" stroke="#1c2220" stroke-width="1.3"/>
<ellipse cx="431.6" cy="638.4" rx="6.0" ry="6.7" fill="none" stroke="#1c2220" stroke-width="1.1"/>
<rect x="426.2" y="636" width="10.8" height="1.6" fill="#8f9995" stroke="none"/>
<path d="M425.6 636L437.6 636" stroke="#343e3a" stroke-width="0.7"/>
<path d="M425.6 637.6L437.6 637.6" stroke="#343e3a" stroke-width="0.7"/>
<path d="M417.9 639.3L445.8 639.3" stroke="#7d8985" stroke-width="0.8"/>
<rect x="423.7" y="685.4" width="15.8" height="20" rx="7.6" ry="7.6" fill="#fff" stroke="#1c2220" stroke-width="1.3"/>
<ellipse cx="431.6" cy="695.3" rx="6.0" ry="6.7" fill="none" stroke="#1c2220" stroke-width="1.1"/>
<rect x="426.2" y="694.6" width="10.8" height="2.2" fill="#8f9995" stroke="none"/>
<path d="M425.6 694.6L437.6 694.6" stroke="#343e3a" stroke-width="0.7"/>
<path d="M425.6 696.8L437.6 696.8" stroke="#343e3a" stroke-width="0.7"/>
<path d="M417.9 695.1L445.8 695.1" stroke="#7d8985" stroke-width="0.8"/>
<path d="M425.3 700.4A6.4 6.4 0 0 0 437.9 700.4" stroke="#343e3a" stroke-width="0.8" fill="none" />
<path d="M431.7 611.8L431.7 654.6" stroke="#56625d" stroke-width="0.8" stroke-dasharray="14 1.5 2 1.5"/>
<path d="M431.7 681.3L431.7 708.6" stroke="#56625d" stroke-width="0.8" stroke-dasharray="14 1.5 2 1.5"/>
<path d="M439.6 638.2L488.8 638.4" stroke="#1c2220" stroke-width="1.0"/>
<path d="M439.6 695.4L488.8 695.2" stroke="#1c2220" stroke-width="1.0"/>
<path d="M431.7 649.6L453.7 651.7V682L431.7 683.6" stroke="#1c2220" stroke-width="0.9" fill="none" />
<path d="M393.7 663.3H453.7V670.6H393.7Z" stroke="#1c2220" stroke-width="0.9" fill="none" />
<path d="M464.8 638.4V641.5Q464.8 642.5 465.8 642.5H488.8" stroke="#343e3a" stroke-width="0.9" fill="none" />
<path d="M464.8 695.2V692Q464.8 691 465.8 691H488.8" stroke="#343e3a" stroke-width="0.9" fill="none" />
<rect x="465" y="648.1" width="23.2" height="2.8" fill="#a9b2ae" stroke="#1c2220" stroke-width="0.8"/>
<rect x="465" y="648.1" width="2.8" height="2.8" fill="#1f2522" stroke="#1c2220" stroke-width="0.6"/>
<rect x="479" y="655.4" width="9.2" height="2.8" fill="#a9b2ae" stroke="#1c2220" stroke-width="0.8"/>
<rect x="479" y="655.4" width="2.8" height="2.8" fill="#1f2522" stroke="#1c2220" stroke-width="0.6"/>
<rect x="465" y="662.1" width="23.2" height="2.8" fill="#4d5753" stroke="#1c2220" stroke-width="0.8"/>
<rect x="465" y="662.1" width="2.8" height="2.8" fill="#1f2522" stroke="#1c2220" stroke-width="0.6"/>
<rect x="479" y="669.1" width="9.2" height="2.8" fill="#a9b2ae" stroke="#1c2220" stroke-width="0.8"/>
<rect x="479" y="669.1" width="2.8" height="2.8" fill="#1f2522" stroke="#1c2220" stroke-width="0.6"/>
<rect x="465" y="676.1" width="23.2" height="2.8" fill="#4d5753" stroke="#1c2220" stroke-width="0.8"/>
<rect x="465" y="676.1" width="2.8" height="2.8" fill="#1f2522" stroke="#1c2220" stroke-width="0.6"/>
<rect x="479" y="683.3" width="9.2" height="2.8" fill="#a9b2ae" stroke="#1c2220" stroke-width="0.8"/>
<rect x="479" y="683.3" width="2.8" height="2.8" fill="#1f2522" stroke="#1c2220" stroke-width="0.6"/>
<path d="M487.4 650.9A2.25 2.25 0 0 1 487.4 655.4" stroke="#1c2220" stroke-width="0.9" fill="none" />
<path d="M487.4 658.2A1.95 1.95 0 0 1 487.4 662.1" stroke="#1c2220" stroke-width="0.9" fill="none" />
<path d="M487.4 664.9A2.1 2.1 0 0 1 487.4 669.1" stroke="#1c2220" stroke-width="0.9" fill="none" />
<path d="M487.4 671.9A2.1 2.1 0 0 1 487.4 676.1" stroke="#1c2220" stroke-width="0.9" fill="none" />
<path d="M487.4 678.9A2.2 2.2 0 0 1 487.4 683.3" stroke="#1c2220" stroke-width="0.9" fill="none" />
<path d="M488.8 646.4Q488.8 648 487.2 648.1" stroke="#1c2220" stroke-width="0.9" fill="none" />
<path d="M488.8 687.4Q488.8 686.1 487.2 686.1" stroke="#1c2220" stroke-width="0.9" fill="none" />
<path d="M488.8 649.5L536.2 649.5" stroke="#5e6c67" stroke-width="0.7"/>
<path d="M488.8 656.8L515.8 656.8" stroke="#5e6c67" stroke-width="0.7"/>
<path d="M515 623.3L515 665" stroke="#5e6c67" stroke-width="0.7"/>
<path d="M515 649.5L514.1 645.7L515.9 645.7Z" fill="#46524e" stroke="none"/>
<path d="M515 656.8L515.9 660.6L514.1 660.6Z" fill="#46524e" stroke="none"/>
<g transform="translate(513.6 632.4) rotate(-90)" stroke="#515e59" stroke-width="0.78" fill="none" stroke-linecap="round" stroke-linejoin="round"><path transform="translate(-7.95 -5.2) scale(5.21 5.2)" vector-effect="non-scaling-stroke" d="M.2 .2L.4 0V1"/><path transform="translate(-3.14 -5.2) scale(5.21 5.2)" vector-effect="non-scaling-stroke" d="M.14 .9V1L.04 1.22"/><path transform="translate(-0.67 -5.2) scale(5.21 5.2)" vector-effect="non-scaling-stroke" d="M0 .2Q0 0 .2 0H.5Q.7 0 .7 .2V.3Q.7 .45 .5 .55L.1 .8Q0 .87 0 1H.7"/><path transform="translate(4.3 -5.2) scale(5.21 5.2)" vector-effect="non-scaling-stroke" d="M0 0H.7L.25 1"/></g>
<path d="M488.8 684.7L536.2 684.7" stroke="#5e6c67" stroke-width="0.7"/>
<path d="M535 649.5L535 684.7" stroke="#5e6c67" stroke-width="0.7"/>
<path d="M535 649.5L535.9 653.7L534.1 653.7Z" fill="#46524e" stroke="none"/>
<path d="M535 684.7L534.1 680.5L535.9 680.5Z" fill="#46524e" stroke="none"/>
<g transform="translate(533.6 667) rotate(-90)" stroke="#515e59" stroke-width="0.78" fill="none" stroke-linecap="round" stroke-linejoin="round"><path transform="translate(-8.39 -5.4) scale(5.5 5.4)" vector-effect="non-scaling-stroke" d="M.65 .1Q.6 0 .45 0H.25Q0 0 0 .25V.78Q0 1 .2 1H.5Q.7 1 .7 .8V.65Q.7 .45 .5 .45H.2Q0 .45 0 .65"/><path transform="translate(-3.31 -5.4) scale(5.5 5.4)" vector-effect="non-scaling-stroke" d="M.14 .9V1L.04 1.22"/><path transform="translate(-0.71 -5.4) scale(5.5 5.4)" vector-effect="non-scaling-stroke" d="M0 .15Q.05 0 .2 0H.5Q.7 0 .7 .2V.3Q.7 .48 .5 .48H.3M.5 .48Q.7 .48 .7 .68V.8Q.7 1 .5 1H.2Q.02 1 0 .85"/><path transform="translate(4.54 -5.4) scale(5.5 5.4)" vector-effect="non-scaling-stroke" d="M.65 0H.05L0 .45Q.15 .38 .35 .38H.45Q.7 .38 .7 .6V.78Q.7 1 .5 1H.2Q.02 1 0 .85"/></g>
<path d="M375.8 703.2L375.8 722.6" stroke="#5e6c67" stroke-width="0.7"/>
<path d="M388.5 710.4L388.5 733.4" stroke="#5e6c67" stroke-width="0.7"/>
<path d="M395.3 710.4L395.3 733.4" stroke="#5e6c67" stroke-width="0.7"/>
<path d="M358.3 721.7L388.5 721.7" stroke="#5e6c67" stroke-width="0.7"/>
<path d="M375.8 721.7L379.4 720.8L379.4 722.6Z" fill="#46524e" stroke="none"/>
<path d="M388.5 721.7L384.9 722.6L384.9 720.8Z" fill="#46524e" stroke="none"/>
<g transform="translate(364.8 720.5) rotate(0)" stroke="#515e59" stroke-width="0.78" fill="none" stroke-linecap="round" stroke-linejoin="round"><path transform="translate(-5.74 -5.2) scale(5.47 5.2)" vector-effect="non-scaling-stroke" d="M0 .2Q0 0 .2 0H.5Q.7 0 .7 .2V.3Q.7 .45 .5 .55L.1 .8Q0 .87 0 1H.7"/><path transform="translate(-0.68 -5.2) scale(5.47 5.2)" vector-effect="non-scaling-stroke" d="M.14 .9V1L.04 1.22"/><path transform="translate(1.91 -5.2) scale(5.47 5.2)" vector-effect="non-scaling-stroke" d="M0 .15Q.05 0 .2 0H.5Q.7 0 .7 .2V.3Q.7 .48 .5 .48H.3M.5 .48Q.7 .48 .7 .68V.8Q.7 1 .5 1H.2Q.02 1 0 .85"/></g>
<path d="M380 732L415.8 732" stroke="#5e6c67" stroke-width="0.7"/>
<path d="M388.5 732L384.7 732.9L384.7 731.1Z" fill="#46524e" stroke="none"/>
<path d="M395.3 732L399.1 731.1L399.1 732.9Z" fill="#46524e" stroke="none"/>
<g transform="translate(409.7 730.8) rotate(0)" stroke="#515e59" stroke-width="0.78" fill="none" stroke-linecap="round" stroke-linejoin="round"><path transform="translate(-4.5 -5.2) scale(4.29 5.2)" vector-effect="non-scaling-stroke" d="M.2 .2L.4 0V1"/><path transform="translate(-0.54 -5.2) scale(4.29 5.2)" vector-effect="non-scaling-stroke" d="M.14 .9V1L.04 1.22"/><path transform="translate(1.5 -5.2) scale(4.29 5.2)" vector-effect="non-scaling-stroke" d="M0 .2Q0 0 .2 0H.5Q.7 0 .7 .2V.3Q.7 .45 .5 .55L.1 .8Q0 .87 0 1H.7"/></g>
</svg>
<div class="n" style="left:47.2px;top:405.84px;"><span class="u">NOTES:</span></div>
<div class="n" style="left:49.2px;top:416.14px;"><span class="u">ELECTRICAL:</span></div>
<div class="n" style="left:53.6px;top:426.04px;">1. VOLTAGE RATING</div>
<div class="n" style="left:169.8px;top:425.74px;">: <b class="sb">125</b> VAC MIN.</div>
<div class="n" style="left:53.6px;top:436.44px;">2. CURRENT RATING</div>
<div class="n" style="left:169.8px;top:436.14px;">: <b class="sb">1.5</b> AMP MIN.</div>
<div class="n" style="left:53.6px;top:447.14px;">3. CONTACT RESISTANCE</div>
<div class="n" style="left:169.8px;top:445.94px;">: 50 MILLIOHMS MAX.</div>
<div class="n" style="left:53.6px;top:456.64px;">4. INSULATION RESISTANCE</div>
<div class="n" style="left:169.8px;top:456.04px;">: 1000 MEGOHMS MIN @ 500 VDC.</div>
<div class="n" style="left:53.6px;top:466.84px;">5. DIELECTRIC STRENGTH</div>
<div class="n" style="left:169.8px;top:466.34px;">: 1000 VAC 60Hz, 1MIN.</div>
<div class="n" style="left:49.2px;top:476.94px;"><span class="u">MECHANICAL:</span></div>
<div class="n" style="left:53.6px;top:486.94px;">1. HOUSING MATERIAL</div>
<div class="n" style="left:185.8px;top:486.64px;">: HIGH TEMP. &nbsp;<b class="sb">UL94V-0.</b></div>
<div class="n" style="left:53.6px;top:497.34px;">2. CONTACT MATERIAL</div>
<div class="n" style="left:185.8px;top:497.04px;">: PHOSPHOR BRONZE t=0.35mm.</div>
<div class="n" style="left:53.6px;top:507.34px;">3. PLATING</div>
<div class="n" style="left:185.8px;top:506.74px;">: 6u" GOLD ON CONTACT AREA</div>
<div class="n" style="left:189.8px;top:516.14px;">100~200u" TIN ON SOLDER AREA</div>
<div class="n" style="left:189.8px;top:524.94px;">ALL OVER 30~50u" NICKEL.</div>
<div class="n" style="left:53.6px;top:535.04px;">4. OPERATING LIFE</div>
<div class="n" style="left:185.8px;top:534.64px;">: 750 CYCLES MIN.</div>
<div class="n" style="left:53.6px;top:545.24px;">5. PCB RETENTION PRE-SOLDER</div>
<div class="n" style="left:185.8px;top:544.84px;">: 1 LB MIN.</div>
<div class="n" style="left:53.6px;top:555.24px;">6. PCB RETENTION POST-SOLDER: 10 LBS MIN.</div>
<div class="n" style="left:49.2px;top:565.24px;"><span class="u">ENVIRONMENTAL:</span></div>
<div class="n" style="left:53.6px;top:575.54px;">1. STORAGE</div>
<div class="n" style="left:185.8px;top:575.24px;">: -40°C TO +85°C.</div>
<div class="n" style="left:53.6px;top:585.54px;">2. OPERATION</div>
<div class="n" style="left:185.8px;top:585.14px;">: -40°C TO +85°C.</div>
<div class="n" style="left:53.6px;top:595.54px;">3. WAVE SOLDER TEMPERTURE</div>
<div class="n" style="left:185.8px;top:595.14px;">: 255°C TO 265°C 5~10 SECOND.</div>
<div class="cap" id="cap1" style="left:425.3px;top:555.2px;">PC Board Layout</div>
<div class="cap" id="cap2" style="left:412px;top:565.8px;">Component Side Shown</div>
<div class="t" id="rohs" style="left:51.9px;top:644.51px;font-size:18.25px;font-weight:bold;color:#111;">RoHS compliant</div>
<div class="t" id="unit" style="left:51.6px;top:660.82px;font-size:10.55px;color:#222;-webkit-text-stroke:0.15px #222;">Unit: mm</div>
<div class="t" id="file" style="left:87.9px;top:726.26px;font-size:12.22px;color:#1a1a1a;-webkit-text-stroke:0.2px #1a1a1a;">File No.: E345352</div>
<svg class="dw" style="left:44px;top:696px" width="46" height="46" viewBox="44 696 46 46">
<circle cx="66.5" cy="718.7" r="15.7" fill="none" stroke="#111" stroke-width="3.4"/>
<path d="M57.9 709.5H61.4V720.4Q61.4 721.6 62.4 721.6Q63.4 721.6 63.4 720.4V709.5H66.9V720.6Q66.9 724.6 62.4 724.6Q57.9 724.6 57.9 720.6Z" fill="#111"/>
<path d="M68.5 714H71.8V725.6H75.6V728.5H68.5Z" fill="#111"/>
<circle cx="62.5" cy="726.8" r="1.7" fill="none" stroke="#222" stroke-width="0.7"/>
<text x="62.5" y="727.8" font-family="Liberation Sans, sans-serif" font-size="2.6" font-weight="bold" text-anchor="middle" fill="#222">R</text>
</svg>

</body>
</html>
